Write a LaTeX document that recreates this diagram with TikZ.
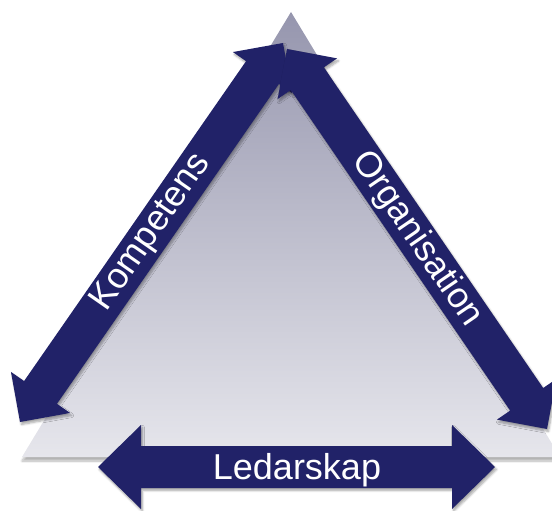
\documentclass[tikz,border=0pt]{standalone}
\usepackage{fontspec}
\setmainfont{Liberation Sans}
\usetikzlibrary{calc,shadows.blur}

\definecolor{navy}{RGB}{33,34,104}
\definecolor{triTop}{RGB}{150,150,174}
\definecolor{triBot}{RGB}{230,230,236}

% Double-headed block arrow between two tips.
% #1 options, #2 first tip, #3 second tip,
% #4 shaft half width, #5 head half width, #6 head length
\newcommand\blockarrow[6]{%
  \fill[#1] (#2)
    -- ($(#2)!#6!(#3)!#5!90:(#3)$)
    -- ($(#2)!#6!(#3)!#4!90:(#3)$)
    -- ($(#3)!#6!(#2)!#4!-90:(#2)$)
    -- ($(#3)!#6!(#2)!#5!-90:(#2)$)
    -- (#3)
    -- ($(#3)!#6!(#2)!#5!90:(#2)$)
    -- ($(#3)!#6!(#2)!#4!90:(#2)$)
    -- ($(#2)!#6!(#3)!#4!-90:(#3)$)
    -- ($(#2)!#6!(#3)!#5!-90:(#3)$)
    -- cycle;}

\tikzset{
  arrowbody/.style={fill=navy,
    blur shadow={shadow xshift=1.5pt, shadow yshift=-2.5pt,
      shadow blur steps=6, shadow opacity=35}},
  lbl/.style={text=white, inner sep=0pt,
    font=\fontsize{36}{40}\selectfont}
}

\begin{document}
\begin{tikzpicture}[x=1pt, y=-1pt]
  \useasboundingbox (0,0) rectangle (552,511);

  % shaded triangle
  \coordinate (apex) at (291,12);
  \coordinate (cornerL) at (22,457);
  \coordinate (cornerR) at (560,457);
  \shade[top color=triTop, bottom color=triBot,
    blur shadow={shadow xshift=0pt, shadow yshift=-4pt,
      shadow blur steps=8, shadow opacity=30}]
    (apex) -- (cornerL) -- (cornerR) -- cycle;

  % arrow end points
  \coordinate (kA) at (20,422);
  \coordinate (kB) at (283,43);
  \coordinate (oA) at (287,49);
  \coordinate (oB) at (547,429);
  \coordinate (lA) at (98,467);
  \coordinate (lB) at (495,467);

  \blockarrow{arrowbody}{lA}{lB}{21pt}{42pt}{43pt}
  \blockarrow{arrowbody}{kA}{kB}{20pt}{36pt}{36pt}
  \blockarrow{arrowbody}{oA}{oB}{20pt}{36pt}{36pt}

  % labels
  \node[lbl, rotate=55.2] (kt) at ($(kA)!0.5!(kB)$) {Kompetens};
  \node[lbl, rotate=-55.6] (ot) at ($(oA)!0.5!(oB)$) {Organisation};
  \node[lbl, anchor=base] (lt) at (297,479) {Ledarskap};
\end{tikzpicture}
\end{document}
